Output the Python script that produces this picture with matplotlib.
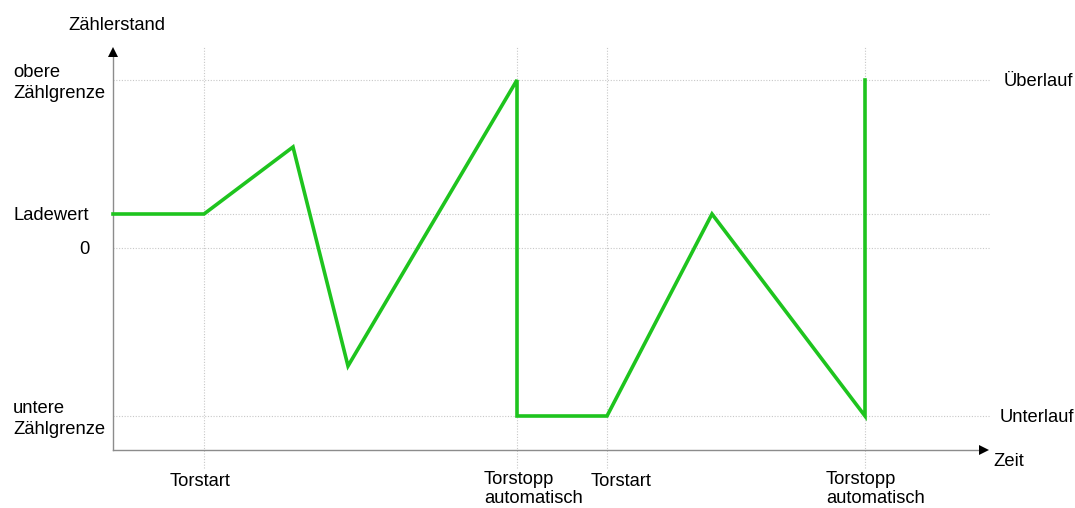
import matplotlib.pyplot as plt

plt.rcParams['font.family'] = ['Liberation Sans', 'DejaVu Sans']

# counter curve (time, count)
zeit = [0, 9.1, 18.0, 23.5, 40.4, 40.4, 49.4, 59.9, 75.2, 75.2]
zaehler = [3.4, 3.4, 10.1, -11.8, 16.8, -16.8, -16.8, 3.4, -16.8, 16.8]

# reference levels
obere = 16.8
ladewert = 3.4
null = 0.0
untere = -16.8

# gate events
ereignis_zeit = [9.1, 40.4, 49.4, 75.2]
ereignis_text = ['Torstart', 'Torstopp\nautomatisch', 'Torstart', 'Torstopp\nautomatisch']

fig = plt.figure(figsize=(10.75, 5.08), dpi=100)
ax = fig.add_axes([0, 0, 1, 1])
ax.set_xlim(-11.3, 96.2)
ax.set_ylim(-26.0, 24.8)
ax.axis('off')

# dotted grid
for lvl in [obere, ladewert, null, untere]:
    ax.plot([0, 87.7], [lvl, lvl], color='#c8c8c8', lw=0.8, ls=(0, (1, 1.5)), zorder=1)
for t in ereignis_zeit:
    ax.plot([t, t], [-22.0, 20.2], color='#c8c8c8', lw=0.8, ls=(0, (1, 1.5)), zorder=1)

# axes: gray lines, black arrow heads
ax.plot([0, 86.8], [-20.2, -20.2], color='#8c8c8c', lw=1.0, zorder=2)
ax.plot([0, 0], [-20.2, 19.4], color='#8c8c8c', lw=1.0, zorder=2)
ax.plot([87.1], [-20.2], marker='>', color='black', ms=6.5, mew=0, zorder=3)
ax.plot([0], [19.6], marker='^', color='black', ms=6.5, mew=0, zorder=3)

ax.plot(zeit, zaehler, color='#1ec41e', lw=2.6, zorder=3, solid_joinstyle='miter')

fs = 13.2
ax.text(-4.5, 22.3, 'Zählerstand', fontsize=fs, ha='left', va='center')
ax.text(-10.0, obere - 0.3, 'obere\nZählgrenze', fontsize=fs, ha='left', va='center', linespacing=1.35)
ax.text(-10.0, ladewert - 0.15, 'Ladewert', fontsize=fs, ha='left', va='center')
ax.text(-2.4, null - 0.15, '0', fontsize=fs, ha='right', va='center')
ax.text(-10.0, untere - 0.3, 'untere\nZählgrenze', fontsize=fs, ha='left', va='center', linespacing=1.35)
ax.text(89.1, obere - 0.15, 'Überlauf', fontsize=fs, ha='left', va='center')
ax.text(88.7, untere - 0.15, 'Unterlauf', fontsize=fs, ha='left', va='center')
ax.text(88.0, -21.4, 'Zeit', fontsize=fs, ha='left', va='center')

offs = [-3.4, -3.3, -1.6, -3.9]
for t, txt, o in zip(ereignis_zeit, ereignis_text, offs):
    yy = -24.1 if '\n' in txt else -23.4
    ax.text(t + o, yy, txt, fontsize=fs, ha='left', va='center', linespacing=1.22)

plt.savefig('out.png', dpi=100)
